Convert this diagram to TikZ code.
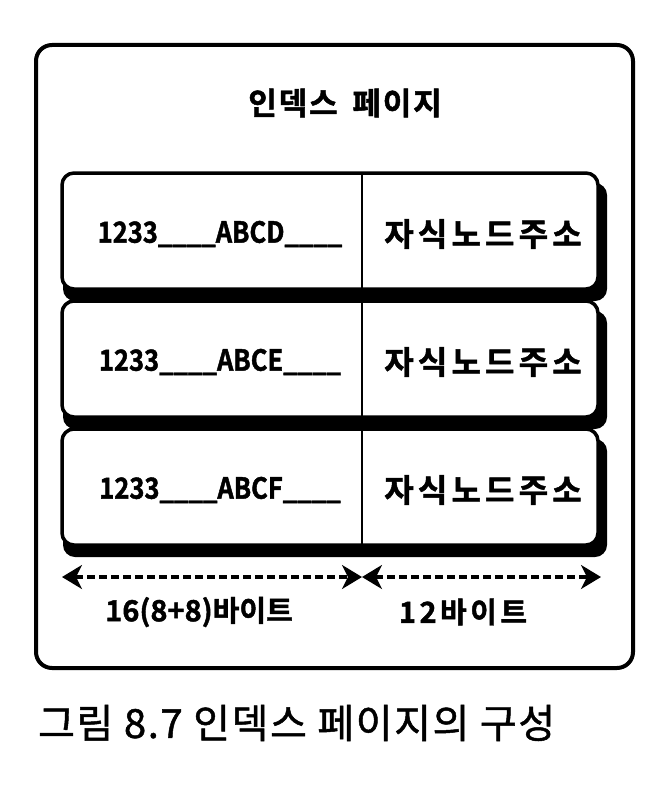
\documentclass[tikz,border=0pt]{standalone}
\usepackage{fontspec}
\setmainfont{Noto Sans CJK KR}[BoldFont={* Bold}]
\newfontfamily\krfont{Noto Sans CJK KR}[BoldFont={* Bold}]
\usetikzlibrary{arrows.meta}
\begin{document}
\begin{tikzpicture}[x=1bp,y=-1bp,
  outerbox/.style={draw=black,line width=4bp,rounded corners=16bp},
  rowshadow/.style={fill=black,rounded corners=12bp},
  rowbox/.style={draw=black,fill=white,line width=3.5bp,rounded corners=12bp},
  divline/.style={draw=black,line width=2.5bp},
  celltxt/.style={font=\krfont\bfseries\fontsize{32bp}{36bp}\selectfont\addfontfeatures{LetterSpace=13,FakeBold=1.5},inner sep=0pt},
  titletxt/.style={font=\krfont\bfseries\fontsize{31bp}{36bp}\selectfont\addfontfeatures{LetterSpace=6,FakeBold=1.5},inner sep=0pt},
  keytxt/.style={font=\krfont\bfseries\fontsize{29bp}{32bp}\selectfont\addfontfeatures{FakeStretch=0.88,FakeBold=1.5},inner sep=0pt},
  lbltxt/.style={font=\krfont\bfseries\fontsize{29bp}{32bp}\selectfont\addfontfeatures{FakeBold=1.5},inner sep=0pt},
  dimarrow/.style={draw=black,line width=3.2bp,dash pattern=on 8bp off 4bp,{Stealth[length=20bp,width=24bp,inset=6bp]}-{Stealth[length=20bp,width=24bp,inset=6bp]}}
]
\useasboundingbox (0,0) rectangle (670,788);
\fill[white] (0,0) rectangle (670,788);
% outer page
\draw[outerbox] (36,45) rectangle (633,668);
\node[titletxt] (title) at (345,103) {인덱스\hspace{6bp} 페이지};
% rows
\foreach \t/\k [count=\i] in {173/ABCD,301/ABCE,429/ABCF}{
  \fill[rowshadow] (63,\t+10) rectangle (607,\t+128);
  \draw[rowbox] (62,\t) rectangle (598,\t+116);
  \coordinate (dtop\i) at (362,\t);
  \coordinate (dbot\i) at (362,\t+116);
  \draw[divline] (dtop\i) -- (dbot\i);
  \node[keytxt] (key\i) at (220,\t+61) {1233\_\_\_\_\k\_\_\_\_};
  \node[celltxt] (addr\i) at (483,\t+61) {자식노드주소};
}
% dimension arrows
\coordinate (al) at (62,577);
\coordinate (am) at (362,577);
\coordinate (ar) at (601,577);
\draw[dimarrow] (al) -- (am);
\draw[dimarrow] (am) -- (ar);
\node[lbltxt] (lbl1) at (199,612) {16(8+8)바이트};
\node[lbltxt,font=\krfont\bfseries\fontsize{29bp}{32bp}\selectfont\addfontfeatures{LetterSpace=12,FakeBold=1.5}] (lbl2) at (463,612) {12바이트};
% caption
\node[anchor=west,inner sep=0pt,font=\krfont\fontsize{40bp}{44bp}\selectfont\addfontfeatures{LetterSpace=4,FakeBold=1.2}] (cap) at (38,723) {그림 8.7 인덱스 페이지의 구성};
\end{tikzpicture}
\end{document}
